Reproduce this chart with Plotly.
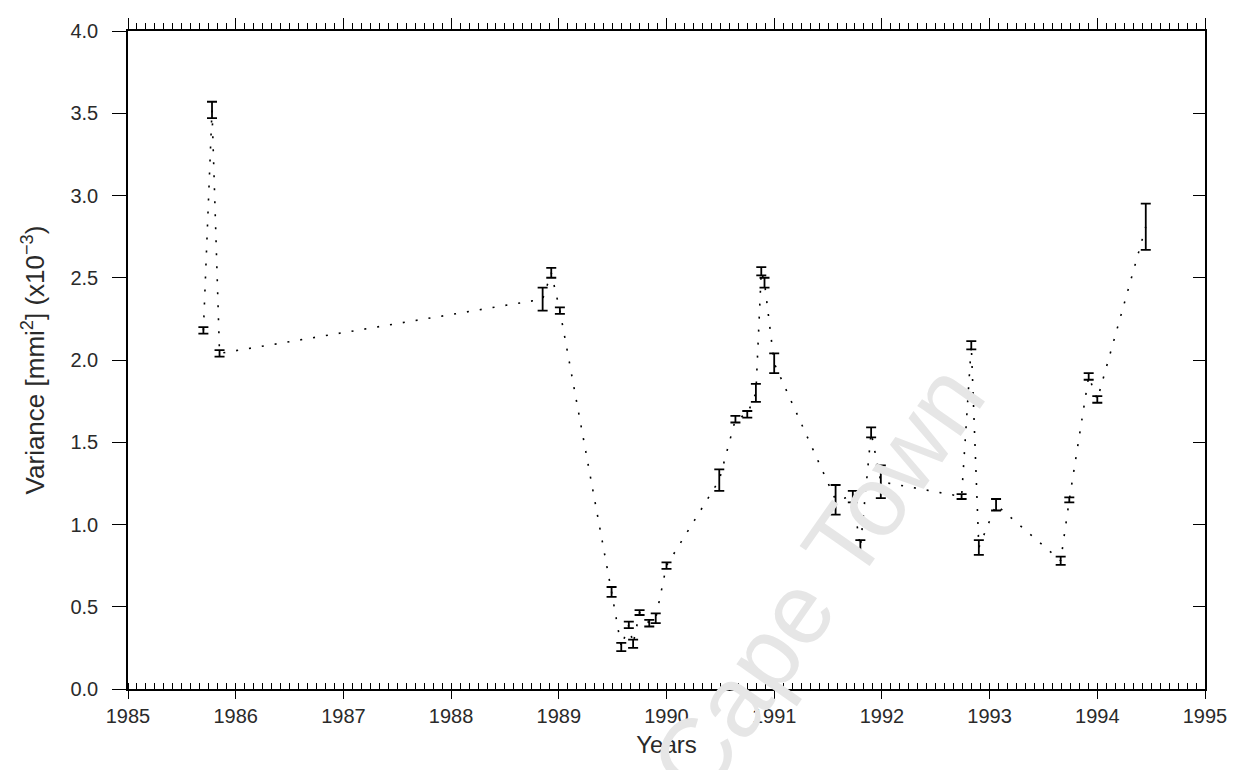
import plotly.graph_objects as go

years = [1985.70, 1985.78, 1985.85, 1988.85, 1988.93, 1989.01, 1989.49, 1989.58,
         1989.65, 1989.69, 1989.75, 1989.84, 1989.90, 1990.00, 1990.49, 1990.64,
         1990.75, 1990.83, 1990.88, 1990.91, 1991.00, 1991.57, 1991.73, 1991.80,
         1991.90, 1991.99, 1992.74, 1992.83, 1992.90, 1993.06, 1993.66, 1993.74,
         1993.92, 1994.00, 1994.45]
variance = [2.18, 3.52, 2.04, 2.37, 2.53, 2.30, 0.59, 0.255,
            0.39, 0.275, 0.465, 0.40, 0.43, 0.75, 1.27, 1.64,
            1.67, 1.80, 2.54, 2.47, 1.98, 1.15, 1.17, 0.86,
            1.56, 1.26, 1.17, 2.09, 0.86, 1.12, 0.78, 1.15,
            1.90, 1.76, 2.81]
errors = [0.02, 0.05, 0.02, 0.07, 0.03, 0.02, 0.03, 0.025,
          0.02, 0.025, 0.015, 0.02, 0.03, 0.02, 0.065, 0.02,
          0.02, 0.055, 0.025, 0.03, 0.06, 0.09, 0.035, 0.045,
          0.03, 0.10, 0.015, 0.025, 0.045, 0.035, 0.025, 0.015,
          0.02, 0.02, 0.14]
y_ticks = [0.0, 0.5, 1.0, 1.5, 2.0, 2.5, 3.0, 3.5, 4.0]
x_ticks = list(range(1985, 1996))

fig = go.Figure()
fig.add_trace(go.Scatter(
    x=years, y=variance, mode="lines",
    line=dict(color="black", width=1.6, dash="2px,11px"),
    error_y=dict(type="data", array=errors, visible=True, color="black",
                 thickness=1.8, width=5),
    showlegend=False, hoverinfo="skip"))
# invisible trace to activate mirror axes
fig.add_trace(go.Scatter(x=[1985, 1995], y=[0, 4], xaxis="x2", yaxis="y2",
                         mode="markers", marker=dict(opacity=0),
                         showlegend=False, hoverinfo="skip"))

tickfont = dict(family="Liberation Sans", size=20, color="#2a2a2a")
fig.update_layout(
    width=1231, height=762,
    margin=dict(l=120, r=32, t=19, b=81),
    paper_bgcolor="white", plot_bgcolor="white",
    font=dict(family="Liberation Sans", color="#2a2a2a"),
    xaxis=dict(range=[1985, 1995], tickvals=x_ticks, ticktext=[str(v) for v in x_ticks],
               showgrid=False, zeroline=False, showline=True, linecolor="black",
               linewidth=1.6, ticks="outside", ticklen=8, tickwidth=1.2,
               tickcolor="black", tickfont=tickfont,
               minor=dict(dtick=1/12, tick0=1985, ticks="inside", ticklen=6,
                          tickwidth=1, tickcolor="black", showgrid=False),
               title=dict(text="Years", font=dict(family="Liberation Sans", size=24, color="#2a2a2a"),
                          standoff=10)),
    xaxis2=dict(range=[1985, 1995], overlaying="x", side="top", showticklabels=False,
                showgrid=False, zeroline=False, showline=True, linecolor="black",
                linewidth=1.6, ticks="outside", ticklen=11, tickwidth=1.2,
                tickcolor="black", dtick=1, tick0=1985,
                minor=dict(dtick=1/12, tick0=1985, ticks="outside", ticklen=6,
                           tickwidth=1, tickcolor="black", showgrid=False)),
    yaxis=dict(range=[0, 4], tickvals=y_ticks, ticktext=[f"{v:.1f}" for v in y_ticks],
               showgrid=False, zeroline=False, showline=True, linecolor="black",
               linewidth=1.6, ticks="outside", ticklen=14, tickwidth=1.2,
               tickcolor="black", tickfont=tickfont, ticklabelstandoff=10,
               title=dict(text="Variance [mmi<sup>2</sup>] (x10<sup>−3</sup>)",
                          font=dict(family="Liberation Sans", size=26, color="#2a2a2a"),
                          standoff=18)),
    yaxis2=dict(range=[0, 4], overlaying="y", side="right", showticklabels=False,
                showgrid=False, zeroline=False, showline=True, linecolor="black",
                linewidth=1.6, ticks="inside", ticklen=12, tickwidth=1.2,
                tickcolor="black", tickvals=y_ticks),
    annotations=[dict(text="Cape Town", xref="paper", yref="paper", x=0.64, y=0.165,
                      xanchor="center", yanchor="middle",
                      showarrow=False, textangle=-55,
                      font=dict(family="Liberation Sans", size=100, color="#e6e6e6"))],
)

fig.write_html("out.html")
